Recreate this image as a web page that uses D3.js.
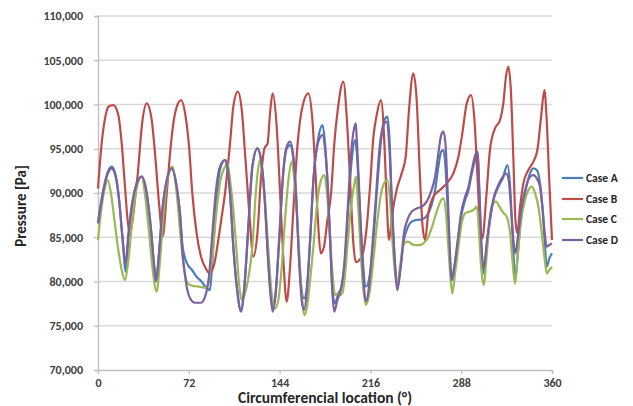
<!DOCTYPE html>
<html><head><meta charset="utf-8">
<script src="https://cdn.jsdelivr.net/npm/d3@7"></script>
<style>
body{margin:0;background:#fff;}
svg{display:block;font-family:Carlito,Lato,"Open Sans",sans-serif;}
</style></head>
<body><svg id="c" width="633" height="406"></svg>
<script>
const xTicks = [0, 72, 144, 216, 288, 360];
const yTicks = [70000, 75000, 80000, 85000, 90000, 95000, 100000, 105000, 110000];
const seriesNames = ["Case A", "Case B", "Case C", "Case D"];
const seriesColors = ["#4A7EBB", "#BE4B48", "#98B954", "#7D60A0"];

const caseA = [[0,86600],[2.9,89300],[6.9,92000],[10.8,92970],[14,92000],[16.7,89300],[19.3,85200],[22,81100],[24.1,84800],[26.7,88300],[29.9,90700],[34.6,91840],[38.6,90000],[41.8,86200],[44.1,82500],[46,80160],[48.4,83200],[51,88000],[54.5,91400],[58.4,92790],[62.4,90700],[65,87700],[67.1,83930],[70.6,82050],[74.6,81300],[78.2,80540],[82.2,79980],[86.2,79220],[88.8,79030],[90.7,82430],[93.3,88080],[96.7,92600],[100.7,93730],[102,93350],[104.7,89960],[107.3,84000],[110,79600],[113.4,76800],[116.1,79500],[119.2,86190],[122.4,92970],[126.4,95050],[129.3,93730],[131.9,89960],[134.6,83180],[136.7,78900],[138.5,77150],[140.9,78800],[143.5,84310],[147,92400],[149.6,95000],[152.3,95420],[154.9,93900],[157,89960],[159.4,82800],[161.5,79000],[163.4,78090],[165.5,79200],[168.2,84690],[170.8,91470],[174.3,95900],[178,97680],[180.1,95500],[182.2,90710],[184.3,83930],[185.9,79000],[187.9,77530],[190.6,78660],[193.2,79410],[195.9,82430],[198.5,88450],[201.2,93730],[203.8,95990],[205.1,94800],[207,89960],[209.6,83180],[212.5,79410],[215.7,80920],[218.4,84690],[221,89960],[224.5,95990],[227.1,98250],[229.5,98620],[231.3,95610],[232.9,89210],[235,83180],[237.4,79410],[240,81670],[242.6,84690],[245.3,86000],[248.7,86760],[252.7,86950],[256.7,87020],[260.6,87400],[264.1,88450],[267.3,90340],[269.9,92970],[272.1,94670],[273.9,94860],[275.7,92600],[277.3,88080],[278.9,82800],[280.5,80160],[282.6,81670],[285.3,84500],[287.9,87300],[291.1,89200],[293.8,90300],[296.4,92200],[299.1,93730],[300.9,94290],[302.5,89500],[304.1,83600],[305.9,80900],[308.2,83930],[310.9,86950],[314,89400],[317.5,90710],[321,91660],[324.6,93160],[326.8,90710],[328.4,86190],[329.7,82430],[330.7,79980],[332.5,82430],[335.2,86950],[338.6,89960],[342.1,92030],[345.2,92790],[347.9,92600],[350.5,91090],[352.6,88080],[354.5,83930],[355.8,81670],[357.9,82610],[360,83180]];

const caseB = [[0,90500],[2.9,95610],[5.6,98430],[8.2,99750],[12.2,99940],[16.1,98810],[18.8,95610],[21.4,90710],[23.6,86800],[25,85600],[27,86500],[29.5,89500],[31.3,91840],[35.3,98250],[38.6,100130],[42.6,98250],[45.2,94480],[48.4,88830],[51.3,85060],[54.5,89960],[57.9,95610],[61.1,99000],[65.8,100500],[69.5,98620],[72.2,95230],[74.8,89960],[78.2,85440],[81.7,82800],[85.4,81480],[88.8,80920],[92.3,82050],[95.4,84690],[98.1,87320],[100.7,89960],[104.7,95610],[107.3,99750],[110.8,101450],[114,99380],[116.6,94480],[119.8,88080],[123.2,82800],[126.4,85440],[129.3,91840],[132,95050],[134.5,95610],[136.4,99000],[138.5,101260],[141.7,97490],[144.4,89960],[147,82430],[149.6,77720],[152.3,81670],[154.9,88080],[158.3,95610],[162.1,99750],[166.8,101260],[170,98250],[172.6,91840],[174.7,86190],[176.6,83180],[179.2,83930],[181.9,86950],[184.8,89960],[187.4,95610],[190.1,99380],[194.5,102580],[197.7,97490],[200.4,89960],[202.5,84310],[204.4,82200],[209.1,82800],[213.1,86190],[215.7,90710],[218.4,96360],[221,98810],[224.4,100500],[227.1,95610],[228.9,89210],[230.8,84690],[233.4,87700],[236.8,90340],[240.8,92220],[244,94100],[246.6,99380],[250,103520],[252.7,100510],[255.3,91840],[257.4,86190],[259.3,84690],[261.9,87700],[265.9,89580],[271.2,90340],[276.5,91090],[281.8,92220],[285.8,94100],[288.9,96740],[292.4,100130],[295.8,101070],[298.5,98250],[300.9,91840],[303,86190],[304.8,84880],[307.7,89210],[310.9,95000],[314.8,97300],[318.8,98250],[321.4,100130],[323.5,103150],[325.4,104275],[327.5,101260],[329.4,93730],[331,86950],[332.5,85440],[334.7,88450],[337.3,91090],[341.3,92600],[345.2,93540],[348.4,94860],[351.1,98250],[354,101640],[355.8,98250],[357.7,91840],[360,84690]];

const caseC = [[0,84690],[2.9,88450],[5.6,90710],[7.7,91470],[10.3,89960],[13,86950],[16.1,83560],[18.8,81300],[21.4,80160],[24.1,82430],[26.7,86190],[29.9,89960],[34.6,91840],[37.8,89210],[40.5,85440],[43.1,81670],[46.5,78850],[49.2,82430],[51.8,87320],[54.5,91090],[59,92970],[62.4,89960],[65,85820],[67.7,82050],[71.1,79790],[75.6,79490],[80.9,79410],[84.9,79300],[87.5,79790],[88.8,80920],[90.7,82800],[93.3,86950],[96.7,91090],[100.7,92970],[102.8,93350],[104.7,91470],[107.3,88080],[110,83180],[112.1,79410],[113.9,77900],[116.6,78660],[119.8,80920],[122.4,83930],[125.1,89960],[127.2,92970],[128.5,93730],[130.3,92220],[133,88080],[135.6,82430],[137.7,78660],[140.4,76960],[143,77900],[145.7,81670],[148.3,86950],[151,91470],[153.6,93540],[155.7,91470],[158.4,86190],[160.5,80920],[162.1,77530],[163.6,76210],[165.8,77150],[168.2,80160],[170.8,83930],[173.5,88450],[176.1,91090],[179.5,92030],[181.6,89960],[183.8,85440],[185.9,80920],[188,78470],[190.1,78660],[192,78470],[193.8,78660],[196,80920],[198.6,85440],[201.3,89210],[203.4,91090],[204.6,91840],[206,89210],[208.1,83930],[210.2,79410],[212.5,77340],[215.2,78660],[217.8,81670],[221,86190],[224.5,89960],[227.6,91280],[229.5,91470],[231.6,89210],[233.4,84690],[235.6,80920],[237.4,79790],[239.5,81670],[241.4,83560],[243.5,84390],[246.1,84500],[248.7,84240],[251.4,84120],[255.3,84120],[258,84310],[260.6,84690],[264.1,85820],[267.3,87320],[269.9,88450],[272.1,89210],[273.9,89400],[275.7,88080],[277.8,83930],[279.4,80540],[281,78660],[283.1,80920],[285.8,83930],[288.4,86570],[291.1,87700],[294.3,87890],[297.7,88080],[300.4,88450],[302.2,85440],[303.8,81670],[305.7,79600],[309,84310],[311.6,88080],[313.5,88830],[315.6,89020],[318.3,88450],[321.4,87770],[324.1,87320],[326.8,85440],[328.6,82430],[330.7,79790],[332.5,82430],[335.2,86570],[338.6,89210],[341.3,90340],[343.9,90710],[346.6,89960],[349.2,88450],[351.9,85440],[354,82800],[355.8,80920],[357.9,81300],[360,81670]];

const caseD = [[0,86570],[2.9,89210],[6.9,91840],[10.8,92790],[14,91840],[16.7,89210],[19.3,85060],[21.9,82050],[24.1,85440],[26.7,88450],[29.9,90710],[34.6,91840],[38.6,89960],[41.8,86190],[44.1,82430],[46,79980],[48.4,83180],[51,88080],[54.5,91470],[58.4,92790],[62.4,90710],[65,87700],[67.1,83180],[69.5,80160],[73,78100],[76.9,77600],[81.7,77600],[84.9,78280],[88,80540],[90.7,85440],[93.3,89960],[96.7,92970],[100.7,93730],[102,93350],[104.7,89960],[107.3,83930],[110,79410],[113.4,76590],[116.1,79410],[119.2,86190],[122.4,92970],[126.4,95050],[129.3,93730],[131.9,89960],[134.6,83180],[136.7,78660],[138.5,76590],[140.9,78660],[143.5,84310],[147,92600],[149.6,95230],[152.3,95800],[154.9,94100],[157,89960],[159.4,82430],[161.5,77900],[163.4,76780],[165.5,78660],[168.2,84690],[170.8,91470],[174.3,95610],[178,96550],[180.1,94860],[182.2,90710],[184.3,83930],[185.9,78660],[187.4,76590],[189.8,77900],[192.5,79030],[195.1,81670],[197.8,87700],[200.7,94480],[202.6,96930],[204.4,97870],[205.1,96360],[207,90710],[209.1,83930],[210.9,79410],[212.5,77720],[214.9,79410],[217.5,83930],[220.2,89210],[223.6,95610],[226.8,97800],[228.7,98060],[231,95230],[232.9,89210],[235,83180],[237.4,79030],[240,81670],[242.6,85440],[245.3,86950],[248.7,87890],[252.7,88260],[256.7,88450],[260.6,89020],[264.1,90150],[267.3,91840],[269.9,94480],[272.1,96550],[273.9,96930],[275.7,95230],[277.3,89960],[278.9,83930],[280.5,80160],[282.6,81670],[285.3,84690],[287.9,87700],[291.1,89580],[293.8,90710],[296.4,92600],[299.1,94290],[300.9,94670],[302.5,89960],[304.1,83930],[305.9,81500],[308.2,84310],[310.9,87320],[314,89580],[317.5,90900],[321,91840],[323.6,92220],[325.7,91470],[327.6,88080],[329.4,84690],[331,83180],[333.3,85440],[336,88450],[339.4,90710],[342.6,91840],[345.2,92030],[347.9,91660],[350.5,90710],[352.6,88080],[354.5,85060],[355.8,83930],[357.9,84120],[360,84310]];

const seriesData = [caseA, caseB, caseC, caseD];

const L = 98, R = 552, T = 16, B = 370;
const svg = d3.select("#c");
const x = d3.scaleLinear().domain([0, 360]).range([L, R]);
const y = d3.scaleLinear().domain([70000, 110000]).range([B, T]);
const tickFill = "#404040";

// gridlines
svg.append("g").selectAll("line").data(yTicks.filter(v => v > 70000)).join("line")
  .attr("x1", L).attr("x2", R).attr("y1", d => y(d)).attr("y2", d => y(d))
  .attr("stroke", "#d9d9d9").attr("stroke-width", 1.3);

// y axis
const yAxis = svg.append("g").attr("transform", `translate(${L},0)`)
  .call(d3.axisLeft(y).tickValues(yTicks).tickFormat(d3.format(",")).tickSize(4).tickPadding(11));
yAxis.select(".domain").attr("stroke", "#bfbfbf").attr("stroke-width", 1.3);
yAxis.selectAll(".tick line").attr("stroke", "#bfbfbf").attr("stroke-width", 1.3);
yAxis.selectAll("text").attr("font-size", 12).attr("font-weight", "bold").attr("fill", tickFill).attr("font-family", "Carlito,Lato,sans-serif");

// x axis
const xAxis = svg.append("g").attr("transform", `translate(0,${B})`)
  .call(d3.axisBottom(x).tickValues(xTicks).tickFormat(d3.format("d")).tickSize(4).tickPadding(4));
xAxis.select(".domain").attr("stroke", "#bfbfbf").attr("stroke-width", 1.3);
xAxis.selectAll(".tick line").attr("stroke", "#bfbfbf").attr("stroke-width", 1.3);
xAxis.selectAll("text").attr("font-size", 12).attr("font-weight", "bold").attr("fill", tickFill).attr("font-family", "Carlito,Lato,sans-serif");

// lines
const line = d3.line().x(d => x(d[0])).y(d => y(d[1])).curve(d3.curveMonotoneX);
seriesData.forEach((s, i) => {
  svg.append("path").datum(s).attr("d", line).attr("fill", "none")
    .attr("stroke", seriesColors[i]).attr("stroke-width", 2.2).attr("stroke-linejoin", "round");
});

// legend
const legY = [178, 199, 219, 240];
seriesNames.forEach((n, i) => {
  svg.append("line").attr("x1", 562).attr("x2", 583).attr("y1", legY[i]).attr("y2", legY[i])
    .attr("stroke", seriesColors[i]).attr("stroke-width", 2.2);
  svg.append("text").attr("x", 586).attr("y", legY[i]).attr("dy", "0.35em")
    .attr("font-size", 11.5).attr("font-weight", "bold").attr("fill", "#262626").text(n);
});

// axis titles
svg.append("text").attr("transform", "translate(21,206) rotate(-90)").attr("text-anchor", "middle")
  .attr("dy", "0.35em").attr("font-size", 15).attr("font-weight", "bold").attr("fill", "#262626").text("Pressure [Pa]");
svg.append("text").attr("x", 325).attr("y", 398).attr("text-anchor", "middle").attr("dy", "0.35em")
  .attr("font-size", 15.5).attr("font-weight", "bold").attr("fill", "#262626").text("Circumferencial location (°)");
</script></body></html>
